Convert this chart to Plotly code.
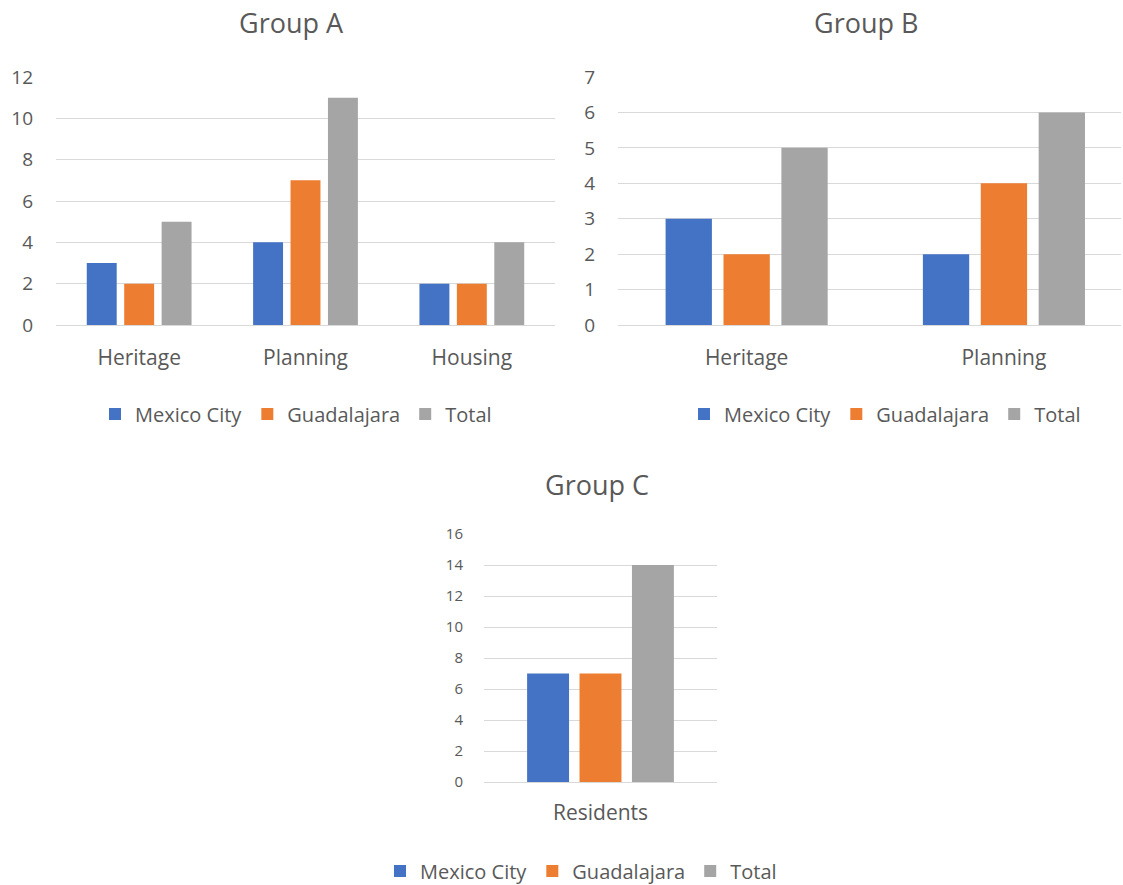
import plotly.graph_objects as go

# Categories per chart
cats_a = ["Heritage", "Planning", "Housing"]
cats_b = ["Heritage", "Planning"]
cats_c = ["Residents"]

series_names = ["Mexico City", "Guadalajara", "Total"]
series_colors = ["#4472C4", "#ED7D31", "#A5A5A5"]

# Values per chart, one list per series
mexico_a = [3, 4, 2]
guadalajara_a = [2, 7, 2]
total_a = [5, 11, 4]

mexico_b = [3, 2]
guadalajara_b = [2, 4]
total_b = [5, 6]

mexico_c = [7]
guadalajara_c = [7]
total_c = [14]

W, H = 1123, 885
FONT = "Open Sans"
TEXT = "#595959"
GRID = "#D9D9D9"

fig = go.Figure()

panels = [
    (cats_a, [mexico_a, guadalajara_a, total_a], "x", "y", "legend"),
    (cats_b, [mexico_b, guadalajara_b, total_b], "x2", "y2", "legend2"),
    (cats_c, [mexico_c, guadalajara_c, total_c], "x3", "y3", "legend3"),
]

for cats, vals, xa, ya, lg in panels:
    for name, color, v in zip(series_names, series_colors, vals):
        fig.add_trace(go.Bar(
            x=cats, y=v, name=name, marker=dict(color=color, line=dict(width=0)),
            xaxis=xa, yaxis=ya, legend=lg, hoverinfo="x+y+name",
        ))


def px_x(p):
    return p / W


def px_y(p):
    return 1 - p / H


def yaxis(top_px, bot_px, anchor, rng, dtick, size, standoff):
    return dict(
        domain=[px_y(bot_px), px_y(top_px)], anchor=anchor, range=rng, dtick=dtick,
        showgrid=True, gridcolor=GRID, gridwidth=1,
        zeroline=True, zerolinecolor=GRID, zerolinewidth=1,
        showline=False, ticks="", ticklabelstandoff=standoff, automargin=False,
        tickfont=dict(family=FONT, size=size, color=TEXT), fixedrange=True,
    )


def xaxis(left_px, right_px, anchor, size, standoff, rng=None):
    ax = dict(
        domain=[px_x(left_px), px_x(right_px)], anchor=anchor,
        showgrid=False, zeroline=False, showline=False, ticks="",
        ticklabelstandoff=standoff, automargin=False,
        tickfont=dict(family=FONT, size=size, color=TEXT), fixedrange=True,
    )
    if rng is not None:
        ax["range"] = rng
    return ax


def legend(cx_px, cy_px, size):
    return dict(
        orientation="h", x=px_x(cx_px), y=px_y(cy_px), xanchor="center", yanchor="middle",
        font=dict(family=FONT, size=size, color=TEXT), itemwidth=30,
        bgcolor="rgba(0,0,0,0)", traceorder="normal", itemclick=False, itemdoubleclick=False,
    )


title_font = dict(family=FONT, size=27, color=TEXT)

fig.update_layout(
    width=W, height=H, margin=dict(l=0, r=0, t=0, b=0, autoexpand=False),
    paper_bgcolor="white", plot_bgcolor="white",
    barmode="group", bargap=0.325, bargroupgap=0.2,
    font=dict(family=FONT, color=TEXT),
    xaxis=xaxis(56, 555, "y", 21, 18),
    yaxis=yaxis(77, 325, "x", [0, 12], 2, 19, 22),
    # Group B's plot area runs past the right edge of the page, so it is clipped
    xaxis2=xaxis(618, 1121, "y2", 21, 18, rng=[-0.5, 1.455]),
    yaxis2=yaxis(77, 325, "x2", [0, 7], 1, 19, 22),
    xaxis3=xaxis(484, 717, "y3", 21, 16),
    yaxis3=yaxis(534, 782, "x3", [0, 16], 2, 15, 20),
    legend=legend(296, 414, 20),
    legend2=legend(885, 414, 20),
    legend3=legend(581, 871, 20),
    showlegend=True,
    annotations=[
        dict(text="Group A", x=px_x(291), y=px_y(22), xref="paper", yref="paper",
             showarrow=False, xanchor="center", yanchor="middle", font=title_font),
        dict(text="Group B", x=px_x(866), y=px_y(22), xref="paper", yref="paper",
             showarrow=False, xanchor="center", yanchor="middle", font=title_font),
        dict(text="Group C", x=px_x(597), y=px_y(484), xref="paper", yref="paper",
             showarrow=False, xanchor="center", yanchor="middle", font=title_font),
    ],
)

fig.write_html("out.html")
